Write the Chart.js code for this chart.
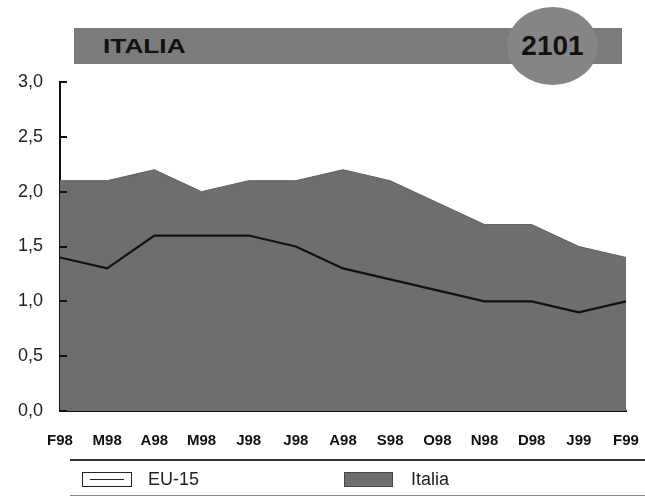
<!DOCTYPE html>
<html>
<head>
<meta charset="utf-8">
<script src="https://cdn.jsdelivr.net/npm/chart.js@4/dist/chart.umd.min.js"></script>
<style>
  body { margin: 0; width: 645px; height: 496px; background: #fff; position: relative; overflow: hidden;
         font-family: "Liberation Sans", Arial, sans-serif; }
  #grafica { position: absolute; left: 0; top: 0; }
  .banda { position: absolute; left: 74px; top: 28px; width: 548px; height: 36px; background: #7b7b7b; }
  .banda span { position: absolute; left: 29px; top: 6px; font-weight: bold; font-size: 21px; color: #111;
                transform: scaleX(1.25); transform-origin: left center; }
  .circulo { position: absolute; left: 507px; top: 7px; width: 91px; height: 78px; border-radius: 50%;
             background: #858585; text-align: center; line-height: 78px; font-weight: bold; font-size: 28px; color: #111; }
  .leyenda { position: absolute; left: 70px; top: 459px; width: 575px; height: 34px;
             border-top: 2px solid #333; border-bottom: 1px solid #888; }
  .item { position: absolute; top: 8px; font-size: 18px; color: #222; }
  .caja { position: absolute; top: 11px; height: 15px; box-sizing: border-box; }
</style>
</head>
<body>
<canvas id="grafica" width="645" height="496"></canvas>
<div class="banda"><span>ITALIA</span></div>
<div class="circulo">2101</div>
<div class="leyenda">
  <div class="caja" style="left:12px; width:50px; border:1px solid #222; background:#fff;">
    <div style="position:absolute; left:7px; right:7px; top:6px; height:1px; background:#222;"></div>
  </div>
  <div class="item" style="left:78px;">EU-15</div>
  <div class="caja" style="left:274px; width:49px; background:#6e6e6e; border:1px solid #444;"></div>
  <div class="item" style="left:341px;">Italia</div>
</div>
<script>
// --- Datos ---
const meses  = ['F98', 'M98', 'A98', 'M98', 'J98', 'J98', 'A98', 'S98', 'O98', 'N98', 'D98', 'J99', 'F99'];
const italia = [2.1, 2.1, 2.2, 2.0, 2.1, 2.1, 2.2, 2.1, 1.9, 1.7, 1.7, 1.5, 1.4];
const eu15   = [1.4, 1.3, 1.6, 1.6, 1.6, 1.5, 1.3, 1.2, 1.1, 1.0, 1.0, 0.9, 1.0];
const yTicks = [0, 0.5, 1, 1.5, 2, 2.5, 3];

// marcas del eje Y hacia dentro
const marcasY = {
  id: 'marcasY',
  afterDatasetsDraw(chart) {
    const { ctx, scales: { y } } = chart;
    ctx.save();
    ctx.strokeStyle = '#111';
    ctx.lineWidth = 2;
    yTicks.forEach(v => {
      const py = Math.round(y.getPixelForValue(v));
      ctx.beginPath();
      ctx.moveTo(y.right, py);
      ctx.lineTo(y.right + 7, py);
      ctx.stroke();
    });
    ctx.restore();
  }
};

const ctx = document.getElementById('grafica').getContext('2d');
new Chart(ctx, {
  type: 'line',
  data: {
    labels: meses,
    datasets: [
      {
        label: 'EU-15',
        data: eu15,
        borderColor: '#111',
        borderWidth: 2.2,
        pointRadius: 0,
        tension: 0,
        fill: false,
        order: 0
      },
      {
        label: 'Italia',
        data: italia,
        borderColor: '#5e5e5e',
        borderWidth: 1,
        backgroundColor: '#6e6e6e',
        pointRadius: 0,
        tension: 0,
        fill: 'origin',
        order: 1
      }
    ]
  },
  options: {
    responsive: false,
    animation: false,
    layout: { padding: { top: 82, right: 19, left: 0, bottom: 0 } },
    plugins: { legend: { display: false }, tooltip: { enabled: false } },
    scales: {
      x: {
        offset: false,
        grid: { display: false, drawTicks: false },
        border: { color: '#111', width: 2 },
        ticks: { padding: 21, maxRotation: 0, autoSkip: false, color: '#111',
                 font: { family: '"Liberation Sans", Arial, sans-serif', size: 15, weight: 'bold' } },
        afterFit: (s) => { s.height = 85; s.paddingLeft = 0; s.paddingRight = 0; }
      },
      y: {
        min: 0, max: 3,
        afterBuildTicks: (s) => { s.ticks = yTicks.map(v => ({ value: v })); },
        grid: { display: false, drawTicks: false },
        border: { color: '#111', width: 2 },
        ticks: { padding: 17, color: '#222',
                 font: { family: '"Liberation Sans", Arial, sans-serif', size: 18 },
                 callback: (v) => v.toFixed(1).replace('.', ',') },
        afterFit: (s) => { s.width = 60; }
      }
    }
  },
  plugins: [marcasY]
});
</script>
</body>
</html>
